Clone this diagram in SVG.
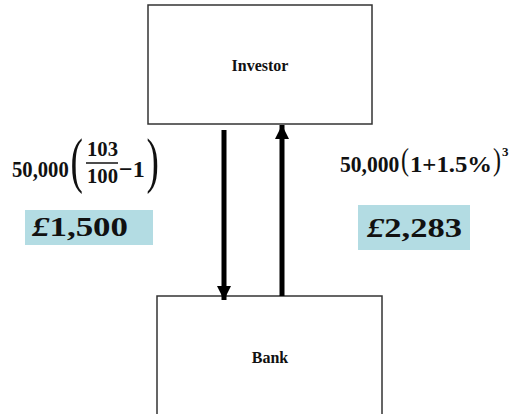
<svg xmlns="http://www.w3.org/2000/svg" width="509" height="414" viewBox="0 0 509 414">
<style>
.box{fill:#fff;stroke:#333;stroke-width:1.5}
.lbl{font-family:"Liberation Serif",serif;font-weight:bold;font-size:16px;fill:#111;text-anchor:middle}
.m{font-family:"Liberation Serif",serif;font-weight:bold;fill:#111}
.p{font-family:"Liberation Serif",serif;font-weight:normal;fill:#111}
.cash{fill:#b3dce3}
.amt{font-family:"Liberation Serif",serif;font-weight:bold;font-size:27px;fill:#111}
.conn{stroke:#000;stroke-width:5;fill:none}
</style>
<defs>
<marker id="ah" viewBox="0 0 10 10" refX="10" refY="5" markerWidth="3" markerHeight="2.8" orient="auto" markerUnits="strokeWidth">
<path d="M0,0 L10,5 L0,10 Z" fill="#000"/>
</marker>
</defs>
<rect width="509" height="414" fill="#fff"/>
<g id="investor">
<rect class="box" x="148" y="5" width="224" height="119"/>
<text class="lbl" x="260" y="71">Investor</text>
</g>
<g id="bank">
<rect class="box" x="157" y="296" width="225" height="130"/>
<text class="lbl" x="270" y="363">Bank</text>
</g>
<g id="connectors">
<line class="conn" x1="224" y1="130" x2="224" y2="300" marker-end="url(#ah)"/>
<line class="conn" x1="282" y1="296" x2="282" y2="125" marker-end="url(#ah)"/>
</g>
<g id="formula-left">
<text class="m" font-size="24" transform="translate(12,177) scale(0.86,1)">50,000</text>
<text class="p" font-size="62" transform="translate(70.5,181) scale(0.6,1)">(</text>
<text class="m" font-size="22" transform="translate(87,156) scale(0.94,1)">103</text>
<line x1="86" y1="163" x2="118" y2="163" stroke="#111" stroke-width="1.5"/>
<text class="m" font-size="22" transform="translate(87,183) scale(0.94,1)">100</text>
<text class="m" x="119" y="177" font-size="24">−1</text>
<text class="p" font-size="62" transform="translate(146.5,181) scale(0.6,1)">)</text>
</g>
<g id="formula-right">
<text class="m" font-size="24" transform="translate(340,172) scale(0.9,1)">50,000</text>
<text class="p" font-size="32" transform="translate(401,170) scale(0.75,1)">(</text>
<text class="m" font-size="24" transform="translate(410,172) scale(1.03,1)">1+1.5%</text>
<text class="p" font-size="32" transform="translate(493,170) scale(0.75,1)">)</text>
<text class="m" x="502" y="156" font-size="13">3</text>
</g>
<g id="amount-left">
<rect class="cash" x="25" y="210" width="128" height="35"/>
<text class="amt" x="32" y="236" textLength="96" lengthAdjust="spacingAndGlyphs"><tspan font-style="italic">£</tspan>1,500</text>
</g>
<g id="amount-right">
<rect class="cash" x="358" y="205" width="112" height="45"/>
<text class="amt" x="367" y="237" textLength="95" lengthAdjust="spacingAndGlyphs"><tspan font-style="italic">£</tspan>2,283</text>
</g>
</svg>
